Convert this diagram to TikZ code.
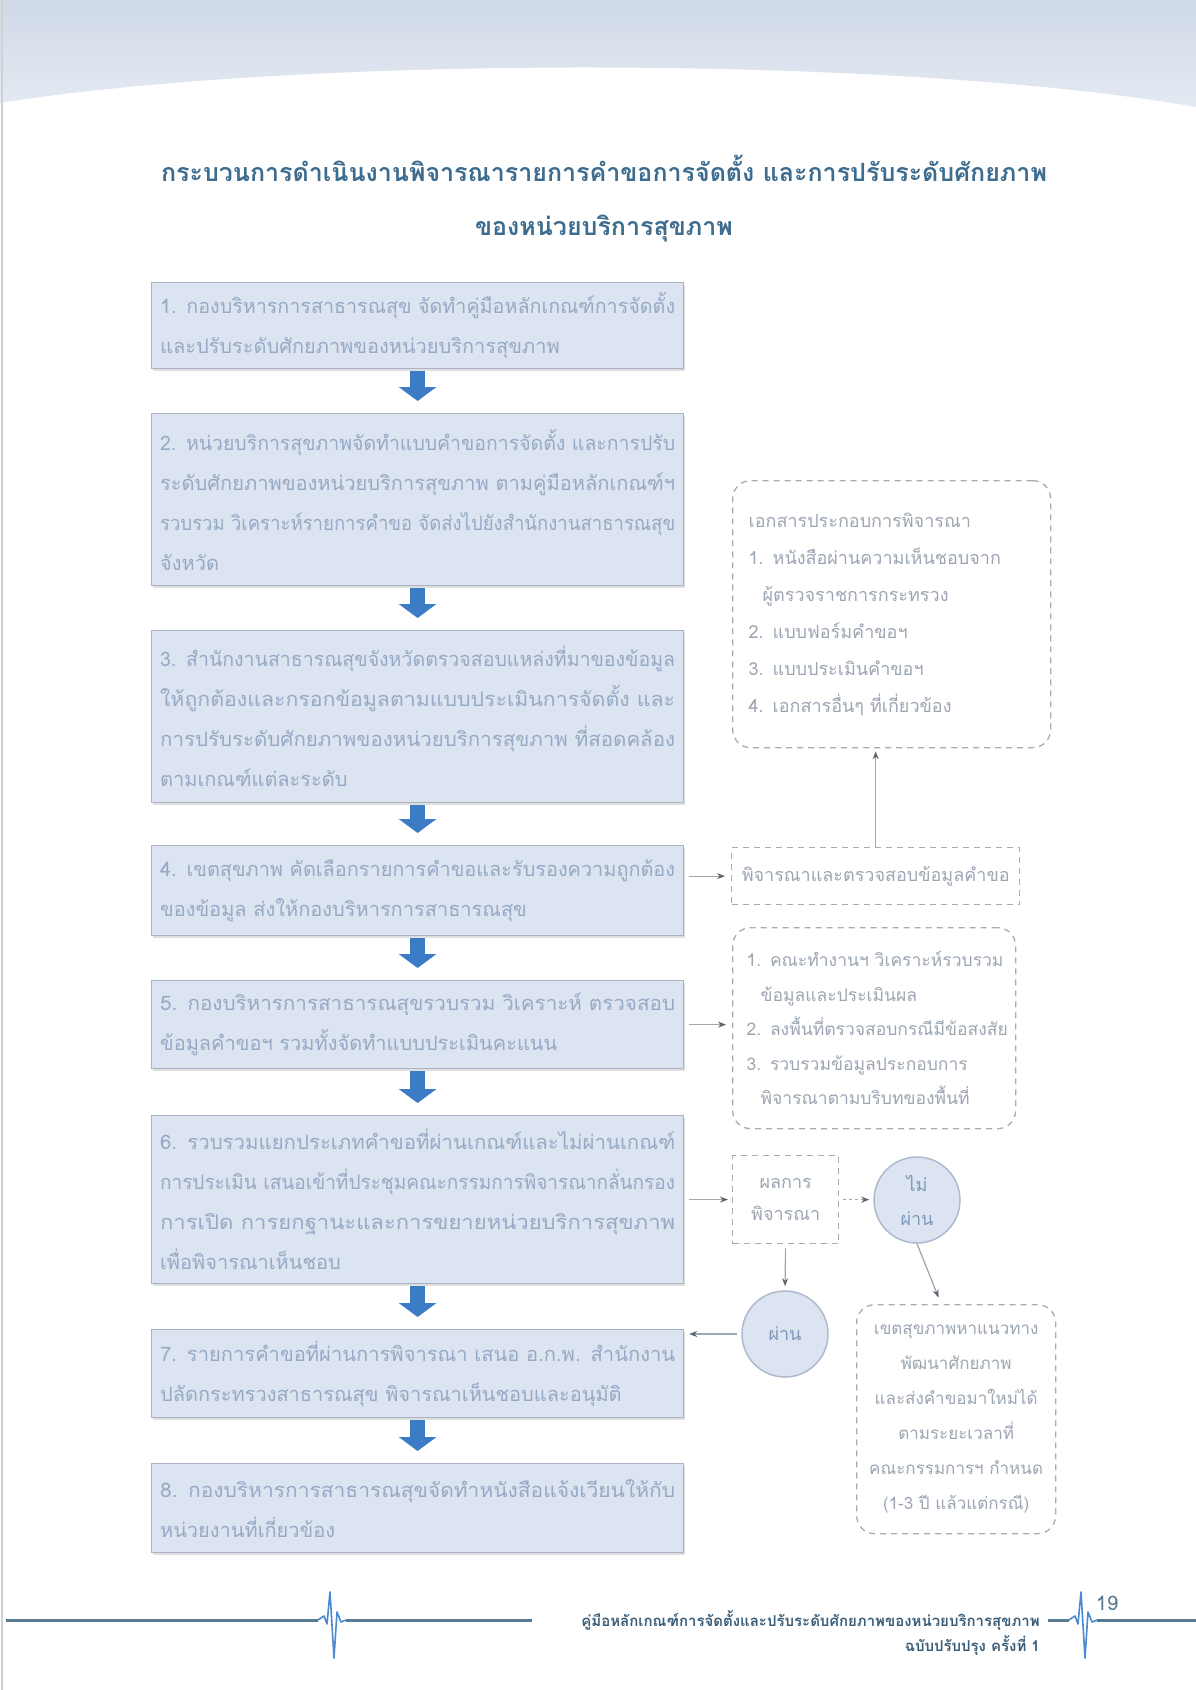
\documentclass[tikz,border=0pt]{standalone}
\usepackage{fontspec}
\setmainfont[Script=Thai]{Loma}
\usetikzlibrary{arrows.meta,shadows,calc}
\definecolor{bandtop}{HTML}{CFD9E7}
\definecolor{bandbot}{HTML}{E4EAF2}
\definecolor{titlec}{HTML}{3D6C8E}
\definecolor{boxfill}{HTML}{DDE4F1}
\definecolor{boxline}{HTML}{A9B3C3}
\definecolor{boxtext}{HTML}{96A9C5}
\definecolor{arrowblue}{HTML}{3C7CC7}
\definecolor{dashc}{HTML}{ABABAB}
\definecolor{sidetext}{HTML}{9CA6B3}
\definecolor{circfill}{HTML}{DCE3F1}
\definecolor{circline}{HTML}{AEBACD}
\definecolor{circtext}{HTML}{7F98BB}
\definecolor{connc}{HTML}{A0A8B1}
\definecolor{tipc}{HTML}{5A6570}
\definecolor{footc}{HTML}{587A92}
\definecolor{spikec}{HTML}{4A8AD0}
\definecolor{foottext}{HTML}{3A5D78}
\newcommand{\fullline}[1]{\resizebox{515pt}{\height}{#1}}
\begin{document}
\begin{tikzpicture}[x=1pt,y=-1pt,
 mainbox/.style={draw=boxline, fill=boxfill, line width=1.2pt, minimum width=532pt, text width=515pt, inner xsep=8.5pt, inner ysep=0pt, align=left, anchor=north west, text=boxtext, font=\fontsize{20}{40}\selectfont, drop shadow={shadow xshift=1pt,shadow yshift=-2pt,opacity=0.25,fill=black!50}},
 blockarrow/.style={line width=15pt, draw=arrowblue, -{Triangle[length=14pt,width=37pt]}, shorten <=2pt, shorten >=12pt},
 dashbox/.style={draw=dashc, line width=1.3pt, dash pattern=on 6pt off 5pt, text=sidetext, anchor=north west, inner sep=0pt},
 circ/.style={circle, draw=circline, fill=circfill, line width=1.5pt, minimum size=86pt, inner sep=0pt, align=center, text=circtext, font=\fontsize{18}{34}\selectfont},
 conn/.style={draw=connc, line width=1.3pt, -{Stealth[length=8pt,width=6pt,color=tipc]}},
 footline/.style={draw=footc, line width=3pt},
 spike/.style={draw=spikec, line width=1.6pt, line join=round},
]
\useasboundingbox (0,0) rectangle (1196,1690);
\fill[white] (0,0) rectangle (1196,1690);
\shade[top color=bandtop, bottom color=bandbot] (0,0) -- (1196,0) -- (1196,107) .. controls (900,55) and (300,55) .. (0,103) -- cycle;
\draw[black!18, line width=1.2pt] (2,0) -- (2,1690);

% title
\node[font=\bfseries\fontsize{25}{54}\selectfont, text=titlec, align=center] (title) at (604,199)
 {กระบวนการดำเนินงานพิจารณารายการคำขอการจัดตั้ง และการปรับระดับศักยภาพ\\ของหน่วยบริการสุขภาพ};

% main boxes
\node[mainbox, minimum height=86pt] (b1) at (151,282)
 {\fullline{1. กองบริหารการสาธารณสุข จัดทำคู่มือหลักเกณฑ์การจัดตั้ง}\\และปรับระดับศักยภาพของหน่วยบริการสุขภาพ};
\node[mainbox, minimum height=172pt] (b2) at (151,413)
 {\fullline{2. หน่วยบริการสุขภาพจัดทำแบบคำขอการจัดตั้ง และการปรับ}\\\fullline{ระดับศักยภาพของหน่วยบริการสุขภาพ ตามคู่มือหลักเกณฑ์ฯ}\\\fullline{รวบรวม วิเคราะห์รายการคำขอ จัดส่งไปยังสำนักงานสาธารณสุข}\\จังหวัด};
\node[mainbox, minimum height=172pt] (b3) at (151,630)
 {\fullline{3. สำนักงานสาธารณสุขจังหวัดตรวจสอบแหล่งที่มาของข้อมูล}\\\fullline{ให้ถูกต้องและกรอกข้อมูลตามแบบประเมินการจัดตั้ง และ}\\\fullline{การปรับระดับศักยภาพของหน่วยบริการสุขภาพ ที่สอดคล้อง}\\ตามเกณฑ์แต่ละระดับ};
\node[mainbox, minimum height=90pt] (b4) at (151,845)
 {\fullline{4. เขตสุขภาพ คัดเลือกรายการคำขอและรับรองความถูกต้อง}\\ของข้อมูล ส่งให้กองบริหารการสาธารณสุข};
\node[mainbox, minimum height=88pt] (b5) at (151,980)
 {\fullline{5. กองบริหารการสาธารณสุขรวบรวม วิเคราะห์ ตรวจสอบ}\\ข้อมูลคำขอฯ รวมทั้งจัดทำแบบประเมินคะแนน};
\node[mainbox, minimum height=168pt] (b6) at (151,1115)
 {\fullline{6. รวบรวมแยกประเภทคำขอที่ผ่านเกณฑ์และไม่ผ่านเกณฑ์}\\\fullline{การประเมิน เสนอเข้าที่ประชุมคณะกรรมการพิจารณากลั่นกรอง}\\\fullline{การเปิด การยกฐานะและการขยายหน่วยบริการสุขภาพ}\\เพื่อพิจารณาเห็นชอบ};
\node[mainbox, minimum height=88pt] (b7) at (151,1329)
 {\fullline{7. รายการคำขอที่ผ่านการพิจารณา เสนอ อ.ก.พ. สำนักงาน}\\ปลัดกระทรวงสาธารณสุข พิจารณาเห็นชอบและอนุมัติ};
\node[mainbox, minimum height=89pt] (b8) at (151,1463)
 {\fullline{8. กองบริหารการสาธารณสุขจัดทำหนังสือแจ้งเวียนให้กับ}\\หน่วยงานที่เกี่ยวข้อง};

\draw[blockarrow] (b1.south) -- (b2.north);
\draw[blockarrow] (b2.south) -- (b3.north);
\draw[blockarrow] (b3.south) -- (b4.north);
\draw[blockarrow] (b4.south) -- (b5.north);
\draw[blockarrow] (b5.south) -- (b6.north);
\draw[blockarrow] (b6.south) -- (b7.north);
\draw[blockarrow] (b7.south) -- (b8.north);

% right side
\node[dashbox, rounded corners=18pt, minimum width=318pt, minimum height=267pt, text width=286pt, inner xsep=16pt, align=left, font=\fontsize{18}{37}\selectfont] (docs) at (732,480)
 {เอกสารประกอบการพิจารณา\\1. หนังสือผ่านความเห็นชอบจาก\\\hspace*{14pt}ผู้ตรวจราชการกระทรวง\\2. แบบฟอร์มคำขอฯ\\3. แบบประเมินคำขอฯ\\4. เอกสารอื่นๆ ที่เกี่ยวข้อง};
\node[dashbox, minimum width=288pt, minimum height=57pt, font=\fontsize{18}{34}\selectfont] (pd) at (731,847)
 {พิจารณาและตรวจสอบข้อมูลคำขอ};
\node[dashbox, rounded corners=18pt, minimum width=283pt, minimum height=201pt, text width=255pt, inner xsep=14pt, align=left, font=\fontsize{17.5}{34.5}\selectfont] (steps) at (732,927)
 {\mbox{1. คณะทำงานฯ วิเคราะห์รวบรวม}\\\mbox{\hspace*{14pt}ข้อมูลและประเมินผล}\\\mbox{2. ลงพื้นที่ตรวจสอบกรณีมีข้อสงสัย}\\\mbox{3. รวบรวมข้อมูลประกอบการ}\\\mbox{\hspace*{14pt}พิจารณาตามบริบทของพื้นที่}};
\node[dashbox, minimum width=106pt, minimum height=88pt, align=center, font=\fontsize{18}{32}\selectfont] (res) at (732,1155)
 {ผลการ\\พิจารณา};
\node[circ] (np) at (917,1200) {ไม่\\ผ่าน};
\node[circ] (ps) at (785,1334) {ผ่าน};
\node[dashbox, rounded corners=18pt, minimum width=199pt, minimum height=229pt, text width=195pt, align=center, font=\fontsize{17}{35}\selectfont] (bb) at (856,1304)
 {เขตสุขภาพหาแนวทาง\\พัฒนาศักยภาพ\\และส่งคำขอมาใหม่ได้\\ตามระยะเวลาที่\\คณะกรรมการฯ กำหนด\\(1-3 ปี แล้วแต่กรณี)};

\draw[conn, shorten <=5pt, shorten >=6pt] (b4.east |- pd.west) -- (pd.west);
\draw[conn, shorten >=3pt] (pd.north) -- (pd.north |- docs.south);
\draw[conn, shorten <=5pt, shorten >=6pt] (b5.east) -- (b5.east -| steps.west);
\draw[conn, shorten <=5pt, shorten >=4pt] (b6.east) -- (b6.east -| res.west);
\draw[conn, dashed, shorten <=4pt, shorten >=4pt] (res.east) -- (res.east -| np.west);
\draw[conn, shorten <=4pt, shorten >=4pt] (res.south) -- (ps.north);
\draw[conn, shorten <=4pt, shorten >=5pt] (ps.west) -- (ps.west -| b7.east);
\draw[conn, shorten >=7pt] (np.south) -- ($(bb.north)+(-15,0)$);

% footer
\draw[footline] (6,1620) -- (318,1620);
\draw[footline] (346,1620) -- (532,1620);
\draw[footline] (1048,1620) -- (1069,1620);
\draw[footline] (1097,1620) -- (1196,1620);
\begin{scope}[shift={(332,1620)}]
\draw[spike] (-14,0) -- (-8,-4) -- (-5,4) -- (-2,-28) -- (2,38) -- (5,-8) -- (9,2) -- (14,0);
\end{scope}
\begin{scope}[shift={(1083,1620)}]
\draw[spike] (-14,0) -- (-8,-4) -- (-5,4) -- (-2,-28) -- (2,38) -- (5,-8) -- (9,2) -- (14,0);
\end{scope}
\node[anchor=east, font=\bfseries\fontsize{15}{20}\selectfont, text=foottext, inner sep=0pt] (ft1) at (1040,1620)
 {คู่มือหลักเกณฑ์การจัดตั้งและปรับระดับศักยภาพของหน่วยบริการสุขภาพ};
\node[anchor=east, font=\bfseries\fontsize{15}{20}\selectfont, text=foottext, inner sep=0pt] (ft2) at (1040,1645)
 {ฉบับปรับปรุง ครั้งที่ 1};
\node[font=\fontsize{20}{24}\selectfont, text=footc, inner sep=0pt] (pg) at (1107,1603) {19};
\end{tikzpicture}
\end{document}
